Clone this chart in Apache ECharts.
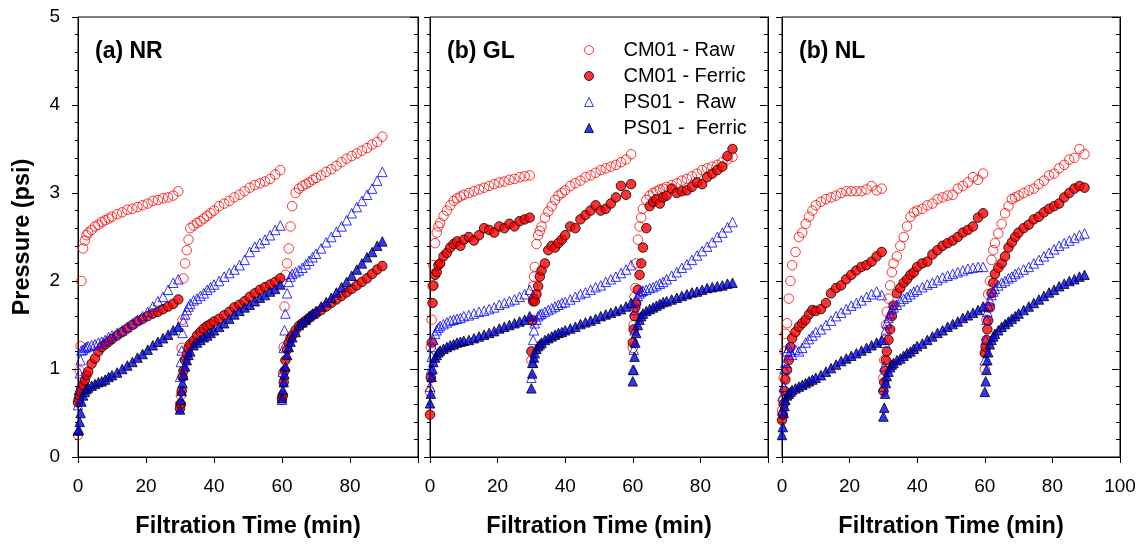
<!DOCTYPE html>
<html>
<head>
<meta charset="utf-8">
<script src="https://cdn.jsdelivr.net/npm/echarts@6/dist/echarts.min.js"></script>
<style>
  html, body { margin: 0; padding: 0; background: #fff; }
  #chart { width: 1148px; height: 546px; }
</style>
</head>
<body>
<div id="chart"></div>
<script>
// minutes inside one 30 min filtration cycle, and the start of each cycle
const cycleMinutes = [0, 0.25, 0.5, 0.75, 1, 1.5, 2, 2.5, 3, 4, 5, 6, 7, 8, 9, 10,
  11.5, 13, 14.5, 16, 17.5, 19, 20.5, 22, 23.5, 25, 26.5, 28, 29.5];
const cycleStarts = [0, 30, 60];

const panelTitles = ['(a) NR', '(b) GL', '(b) NL'];
const seriesNames = ['CM01 - Raw', 'CM01 - Ferric', 'PS01 -  Raw', 'PS01 -  Ferric'];
const xTicks = [0, 20, 40, 60, 80, 100];
const yTicks = [0, 1, 2, 3, 4, 5];

// pressure (psi), one row per cycle
const nrCmRaw = [
  [0.25, 0.65, 0.98, 1.26, 2.0, 2.37, 2.46, 2.52, 2.55, 2.58, 2.62, 2.64, 2.67, 2.69, 2.71, 2.73, 2.76, 2.78, 2.81, 2.82, 2.84, 2.86, 2.88, 2.91, 2.92, 2.94, 2.95, 2.97, 3.02],
  [0.6, 0.7, 1.24, 1.56, 2.03, 2.2, 2.35, 2.47, 2.6, 2.63, 2.66, 2.68, 2.71, 2.74, 2.77, 2.8, 2.85, 2.88, 2.91, 2.95, 2.98, 3.02, 3.06, 3.09, 3.11, 3.13, 3.16, 3.21, 3.26],
  [0.65, 0.95, 1.25, 1.71, 2.07, 2.2, 2.37, 2.62, 2.85, 3.0, 3.05, 3.08, 3.1, 3.12, 3.15, 3.17, 3.2, 3.24, 3.27, 3.31, 3.35, 3.39, 3.42, 3.45, 3.48, 3.51, 3.55, 3.58, 3.64]
];
const nrCmFe = [
  [0.62, 0.66, 0.7, 0.74, 0.78, 0.82, 0.87, 0.93, 0.97, 1.06, 1.12, 1.2, 1.25, 1.28, 1.31, 1.34, 1.38, 1.42, 1.46, 1.5, 1.54, 1.57, 1.6, 1.63, 1.65, 1.68, 1.71, 1.74, 1.79],
  [0.55, 0.6, 0.75, 0.91, 0.98, 1.1, 1.17, 1.24, 1.28, 1.32, 1.38, 1.42, 1.46, 1.49, 1.51, 1.54, 1.57, 1.61, 1.65, 1.7, 1.73, 1.77, 1.82, 1.86, 1.9, 1.93, 1.96, 1.99, 2.03],
  [0.67, 0.7, 0.85, 0.98, 1.1, 1.22, 1.3, 1.35, 1.38, 1.44, 1.49, 1.52, 1.55, 1.58, 1.61, 1.63, 1.67, 1.71, 1.75, 1.79, 1.83, 1.87, 1.91, 1.95, 1.99, 2.03, 2.08, 2.13, 2.17]
];
const nrPsRaw = [
  [0.59, 0.76, 0.95, 1.1, 1.21, 1.22, 1.24, 1.25, 1.26, 1.27, 1.28, 1.3, 1.31, 1.33, 1.36, 1.38, 1.41, 1.44, 1.48, 1.52, 1.56, 1.6, 1.65, 1.71, 1.77, 1.82, 1.9, 1.98, 2.02],
  [0.91, 1.08, 1.21, 1.41, 1.54, 1.62, 1.67, 1.71, 1.74, 1.78, 1.8, 1.83, 1.86, 1.9, 1.93, 1.96, 2.0, 2.05, 2.09, 2.13, 2.18, 2.24, 2.33, 2.39, 2.43, 2.47, 2.52, 2.58, 2.63],
  [0.65, 0.97, 1.24, 1.44, 1.63, 1.86, 1.99, 2.05, 2.08, 2.1, 2.12, 2.15, 2.19, 2.23, 2.27, 2.31, 2.37, 2.44, 2.5, 2.56, 2.62, 2.69, 2.77, 2.84, 2.91, 2.98, 3.05, 3.14, 3.24]
];
const nrPsFe = [
  [0.3, 0.31, 0.4, 0.5, 0.63, 0.7, 0.74, 0.77, 0.79, 0.81, 0.83, 0.85, 0.86, 0.88, 0.91, 0.93, 0.96, 1.0, 1.04, 1.08, 1.13, 1.17, 1.22, 1.27, 1.31, 1.35, 1.39, 1.44, 1.48],
  [0.54, 0.65, 0.75, 0.84, 0.93, 1.03, 1.1, 1.16, 1.2, 1.27, 1.3, 1.33, 1.36, 1.38, 1.41, 1.44, 1.48, 1.52, 1.57, 1.62, 1.66, 1.7, 1.73, 1.77, 1.81, 1.84, 1.88, 1.91, 1.96],
  [0.67, 0.76, 0.85, 0.94, 1.03, 1.16, 1.25, 1.31, 1.36, 1.42, 1.5, 1.53, 1.56, 1.6, 1.63, 1.66, 1.71, 1.76, 1.81, 1.87, 1.93, 1.99, 2.06, 2.13, 2.2, 2.27, 2.33, 2.4, 2.45]
];

const glCmRaw = [
  [0.74, 1.25, 1.56, 1.94, 2.18, 2.43, 2.55, 2.62, 2.66, 2.74, 2.8, 2.86, 2.91, 2.94, 2.96, 2.98, 3.0, 3.02, 3.04, 3.06, 3.08, 3.1, 3.12, 3.13, 3.15, 3.16, 3.18, 3.19, 3.2],
  [1.1, 1.56, 1.94, 2.05, 2.16, 2.42, 2.52, 2.57, 2.62, 2.72, 2.79, 2.85, 2.92, 2.97, 3.0, 3.03, 3.08, 3.11, 3.14, 3.18, 3.2, 3.23, 3.26, 3.28, 3.3, 3.32, 3.35, 3.38, 3.44],
  [1.24, 1.5, 1.82, 1.92, 2.2, 2.47, 2.62, 2.72, 2.82, 2.92, 2.97, 3.0, 3.02, 3.04, 3.05, 3.07, 3.09, 3.11, 3.14, 3.16, 3.19, 3.22, 3.26, 3.28, 3.3, 3.32, 3.35, 3.38, 3.41]
];
const glCmFe = [
  [0.48, 0.9, 1.3, 1.75, 1.95, 2.07, 2.1, 2.18, 2.2, 2.28, 2.32, 2.38, 2.42, 2.45, 2.4, 2.47, 2.5, 2.46, 2.52, 2.6, 2.58, 2.55, 2.62, 2.6, 2.65, 2.62, 2.68, 2.7, 2.72],
  [1.2, 1.55, 1.77, 1.8, 1.77, 1.85, 1.94, 2.05, 2.12, 2.2, 2.35, 2.4, 2.38, 2.43, 2.47, 2.52, 2.62, 2.6, 2.7, 2.75, 2.8, 2.86, 2.8, 2.82, 2.88, 2.95, 3.08, 2.98, 3.1],
  [1.3, 1.45, 1.6, 1.7, 1.75, 1.9, 2.07, 2.2, 2.38, 2.6, 2.85, 2.9, 2.93, 2.88, 2.95, 2.97, 3.05, 3.0, 3.02, 3.03, 3.07, 3.12, 3.1, 3.18, 3.22, 3.26, 3.3, 3.42, 3.5]
];
const glPsRaw = [
  [0.8, 0.99, 1.14, 1.25, 1.33, 1.4, 1.44, 1.47, 1.49, 1.51, 1.53, 1.55, 1.56, 1.57, 1.58, 1.6, 1.61, 1.63, 1.65, 1.66, 1.68, 1.7, 1.73, 1.75, 1.77, 1.79, 1.82, 1.85, 1.9],
  [0.9, 1.07, 1.33, 1.44, 1.52, 1.56, 1.6, 1.62, 1.63, 1.65, 1.67, 1.69, 1.71, 1.73, 1.75, 1.76, 1.79, 1.82, 1.85, 1.87, 1.9, 1.93, 1.95, 1.99, 2.02, 2.05, 2.09, 2.13, 2.18],
  [0.99, 1.22, 1.44, 1.67, 1.78, 1.83, 1.86, 1.88, 1.89, 1.9, 1.92, 1.93, 1.95, 1.97, 1.99, 2.02, 2.06, 2.1, 2.15, 2.19, 2.24, 2.29, 2.34, 2.39, 2.44, 2.5, 2.55, 2.61, 2.67]
];
const glPsFe = [
  [0.61, 0.72, 0.91, 1.0, 1.08, 1.13, 1.16, 1.19, 1.21, 1.23, 1.25, 1.27, 1.28, 1.3, 1.31, 1.32, 1.33, 1.35, 1.37, 1.39, 1.41, 1.43, 1.46, 1.48, 1.5, 1.52, 1.54, 1.56, 1.6],
  [0.78, 0.95, 1.07, 1.13, 1.18, 1.23, 1.26, 1.28, 1.3, 1.33, 1.35, 1.37, 1.39, 1.41, 1.42, 1.44, 1.46, 1.48, 1.51, 1.53, 1.55, 1.57, 1.6, 1.62, 1.64, 1.66, 1.68, 1.71, 1.75],
  [0.86, 0.99, 1.14, 1.3, 1.41, 1.5, 1.56, 1.6, 1.63, 1.66, 1.68, 1.7, 1.72, 1.74, 1.76, 1.77, 1.79, 1.81, 1.83, 1.85, 1.87, 1.88, 1.9, 1.92, 1.93, 1.94, 1.95, 1.97, 1.98]
];

const nlCmRaw = [
  [0.53, 0.65, 0.9, 1.2, 1.4, 1.52, 1.8, 2.0, 2.18, 2.33, 2.5, 2.55, 2.65, 2.73, 2.8, 2.86, 2.9, 2.93, 2.95, 2.97, 3.0, 3.02, 3.02, 3.02, 3.02, 3.04, 3.08, 3.03, 3.05],
  [0.9, 1.1, 1.33, 1.5, 1.65, 1.8, 1.95, 2.1, 2.2, 2.28, 2.4, 2.5, 2.62, 2.73, 2.78, 2.8, 2.82, 2.86, 2.88, 2.93, 2.95, 2.97, 2.98, 3.05, 3.08, 3.12, 3.18, 3.15, 3.22],
  [1.0, 1.2, 1.56, 1.7, 1.85, 2.0, 2.24, 2.35, 2.43, 2.54, 2.65, 2.77, 2.85, 2.93, 2.95, 2.97, 3.0, 3.03, 3.05, 3.1, 3.14, 3.2, 3.22, 3.28, 3.32, 3.38, 3.4, 3.5, 3.44]
];
const nlCmFe = [
  [0.42, 0.48, 0.6, 0.75, 0.88, 0.99, 1.1, 1.25, 1.35, 1.42, 1.48, 1.52, 1.56, 1.62, 1.67, 1.66, 1.68, 1.75, 1.86, 1.92, 1.95, 2.02, 2.07, 2.12, 2.16, 2.18, 2.22, 2.28, 2.33],
  [0.75, 0.85, 0.98, 1.1, 1.2, 1.33, 1.45, 1.6, 1.72, 1.86, 1.92, 1.98, 2.02, 2.07, 2.1, 2.16, 2.2, 2.22, 2.3, 2.35, 2.4, 2.43, 2.46, 2.5, 2.55, 2.58, 2.62, 2.72, 2.77],
  [1.18, 1.25, 1.33, 1.45, 1.55, 1.7, 1.86, 1.98, 2.08, 2.15, 2.2, 2.28, 2.38, 2.44, 2.5, 2.55, 2.6, 2.64, 2.7, 2.73, 2.78, 2.82, 2.85, 2.88, 2.95, 3.0, 3.05, 3.08, 3.06]
];
const nlPsRaw = [
  [0.53, 0.69, 0.8, 1.0, 1.07, 1.2, 1.24, 1.2, 1.16, 1.22, 1.2, 1.24, 1.3, 1.34, 1.38, 1.42, 1.45, 1.5, 1.55, 1.6, 1.64, 1.68, 1.72, 1.75, 1.78, 1.82, 1.85, 1.88, 1.84],
  [0.8, 1.03, 1.3, 1.45, 1.52, 1.58, 1.63, 1.68, 1.7, 1.73, 1.77, 1.8, 1.82, 1.85, 1.88, 1.9, 1.93, 1.96, 1.98, 2.01, 2.04, 2.06, 2.08, 2.1, 2.12, 2.14, 2.15, 2.16, 2.16],
  [1.1, 1.33, 1.56, 1.65, 1.72, 1.78, 1.84, 1.88, 1.91, 1.95, 1.98, 2.0, 2.03, 2.05, 2.08, 2.1, 2.13, 2.16, 2.2, 2.24, 2.28, 2.32, 2.36, 2.4, 2.43, 2.46, 2.49, 2.52, 2.54]
];
const nlPsFe = [
  [0.25, 0.34, 0.5, 0.58, 0.65, 0.7, 0.72, 0.74, 0.76, 0.78, 0.8, 0.82, 0.84, 0.86, 0.88, 0.9, 0.93, 0.97, 1.01, 1.05, 1.09, 1.12, 1.15, 1.18, 1.21, 1.24, 1.27, 1.3, 1.33],
  [0.46, 0.56, 0.72, 0.84, 0.92, 0.97, 1.02, 1.05, 1.07, 1.1, 1.12, 1.15, 1.18, 1.2, 1.23, 1.26, 1.29, 1.33, 1.37, 1.41, 1.44, 1.48, 1.51, 1.54, 1.58, 1.61, 1.64, 1.67, 1.71],
  [0.74, 0.86, 0.99, 1.1, 1.19, 1.28, 1.33, 1.37, 1.4, 1.44, 1.48, 1.51, 1.54, 1.57, 1.6, 1.63, 1.67, 1.71, 1.75, 1.79, 1.83, 1.87, 1.9, 1.94, 1.97, 2.0, 2.02, 2.05, 2.07]
];

const panels = [
  [nrCmRaw, nrCmFe, nrPsRaw, nrPsFe],
  [glCmRaw, glCmFe, glPsRaw, glPsFe],
  [nlCmRaw, nlCmFe, nlPsRaw, nlPsFe]
];

const font = "'Liberation Sans', Arial, sans-serif";
const gridLefts = [78, 430, 782];
const gridWidths = [340, 338, 338];

const markerStyles = [
  {symbol: 'circle', itemStyle: {color: 'rgba(255,255,255,0)', borderColor: '#ff0000', borderWidth: 1}},
  {symbol: 'circle', itemStyle: {color: '#ff0000', borderColor: '#000', borderWidth: 1}},
  {symbol: 'triangle', itemStyle: {color: 'rgba(255,255,255,0)', borderColor: '#0000ff', borderWidth: 1}},
  {symbol: 'triangle', itemStyle: {color: '#0000ff', borderColor: '#000', borderWidth: 1}}
];

function toPoints(cycles) {
  const pts = [];
  cycles.forEach((vals, c) => {
    vals.forEach((p, i) => pts.push([cycleStarts[c] + cycleMinutes[i], p]));
  });
  return pts;
}

const grids = [], xAxes = [], yAxes = [], series = [], titles = [];
panels.forEach((panel, g) => {
  grids.push({
    left: gridLefts[g], top: 17, width: gridWidths[g], height: 440,
    show: true, borderColor: '#000', borderWidth: 1, backgroundColor: 'transparent'
  });
  xAxes.push({
    gridIndex: g, type: 'value', min: xTicks[0], max: xTicks[xTicks.length - 1], interval: 20,
    axisLine: {lineStyle: {color: '#000', width: 1}},
    axisTick: {length: 6, lineStyle: {color: '#000'}},
    splitLine: {show: false},
    axisLabel: {
      color: '#000', fontSize: 19, fontFamily: font, margin: 20,
      formatter: v => (g < 2 && v === 100) ? '' : String(v)
    },
    name: 'Filtration Time (min)', nameLocation: 'middle', nameGap: 58,
    nameTextStyle: {color: '#000', fontSize: 23.5, fontWeight: 'bold', fontFamily: font}
  });
  yAxes.push({
    gridIndex: g, type: 'value', position: 'left', min: yTicks[0], max: yTicks[yTicks.length - 1], interval: 1,
    axisLine: {show: true, lineStyle: {color: '#000', width: 1}},
    axisTick: {length: 6, lineStyle: {color: '#000'}},
    minorTick: {show: true, splitNumber: 5, length: 3, lineStyle: {color: '#000'}},
    splitLine: {show: false},
    axisLabel: {show: g === 0, color: '#000', fontSize: 19, fontFamily: font, margin: 18},
    name: g === 0 ? 'Pressure (psi)' : '', nameLocation: 'middle', nameGap: 43,
    nameTextStyle: {color: '#000', fontSize: 23.5, fontWeight: 'bold', fontFamily: font}
  });
  yAxes.push({
    gridIndex: g, type: 'value', position: 'right', min: yTicks[0], max: yTicks[yTicks.length - 1], interval: 1,
    axisLine: {show: true, lineStyle: {color: '#000', width: 1}},
    axisTick: {inside: true, length: 8, lineStyle: {color: '#000'}},
    minorTick: {show: true, splitNumber: 5, length: 4, lineStyle: {color: '#000'}},
    splitLine: {show: false},
    axisLabel: {show: false}
  });
  titles.push({
    text: panelTitles[g], left: gridLefts[g] + 17, top: 40, padding: 0,
    textStyle: {color: '#000', fontSize: 23, fontWeight: 'bold', fontFamily: font}
  });
  panel.forEach((cycles, k) => {
    series.push({
      name: seriesNames[k], type: 'scatter', xAxisIndex: g, yAxisIndex: g * 2,
      symbol: markerStyles[k].symbol, symbolSize: 9.5,
      itemStyle: markerStyles[k].itemStyle,
      data: toPoints(cycles)
    });
  });
});

const chart = echarts.init(document.getElementById('chart'), null, {renderer: 'canvas'});
chart.setOption({
  animation: false,
  backgroundColor: '#fff',
  title: titles,
  legend: {
    orient: 'vertical', left: 584, top: 40, padding: 0,
    itemWidth: 9, itemHeight: 9, itemGap: 6,
    itemStyle: {borderWidth: 1},
    data: seriesNames.map((n, k) => ({name: n, icon: markerStyles[k].symbol})),
    textStyle: {color: '#000', fontSize: 20, fontFamily: font, padding: [0, 0, 0, 25]}
  },
  grid: grids,
  xAxis: xAxes,
  yAxis: yAxes,
  series: series
});
</script>
</body>
</html>
